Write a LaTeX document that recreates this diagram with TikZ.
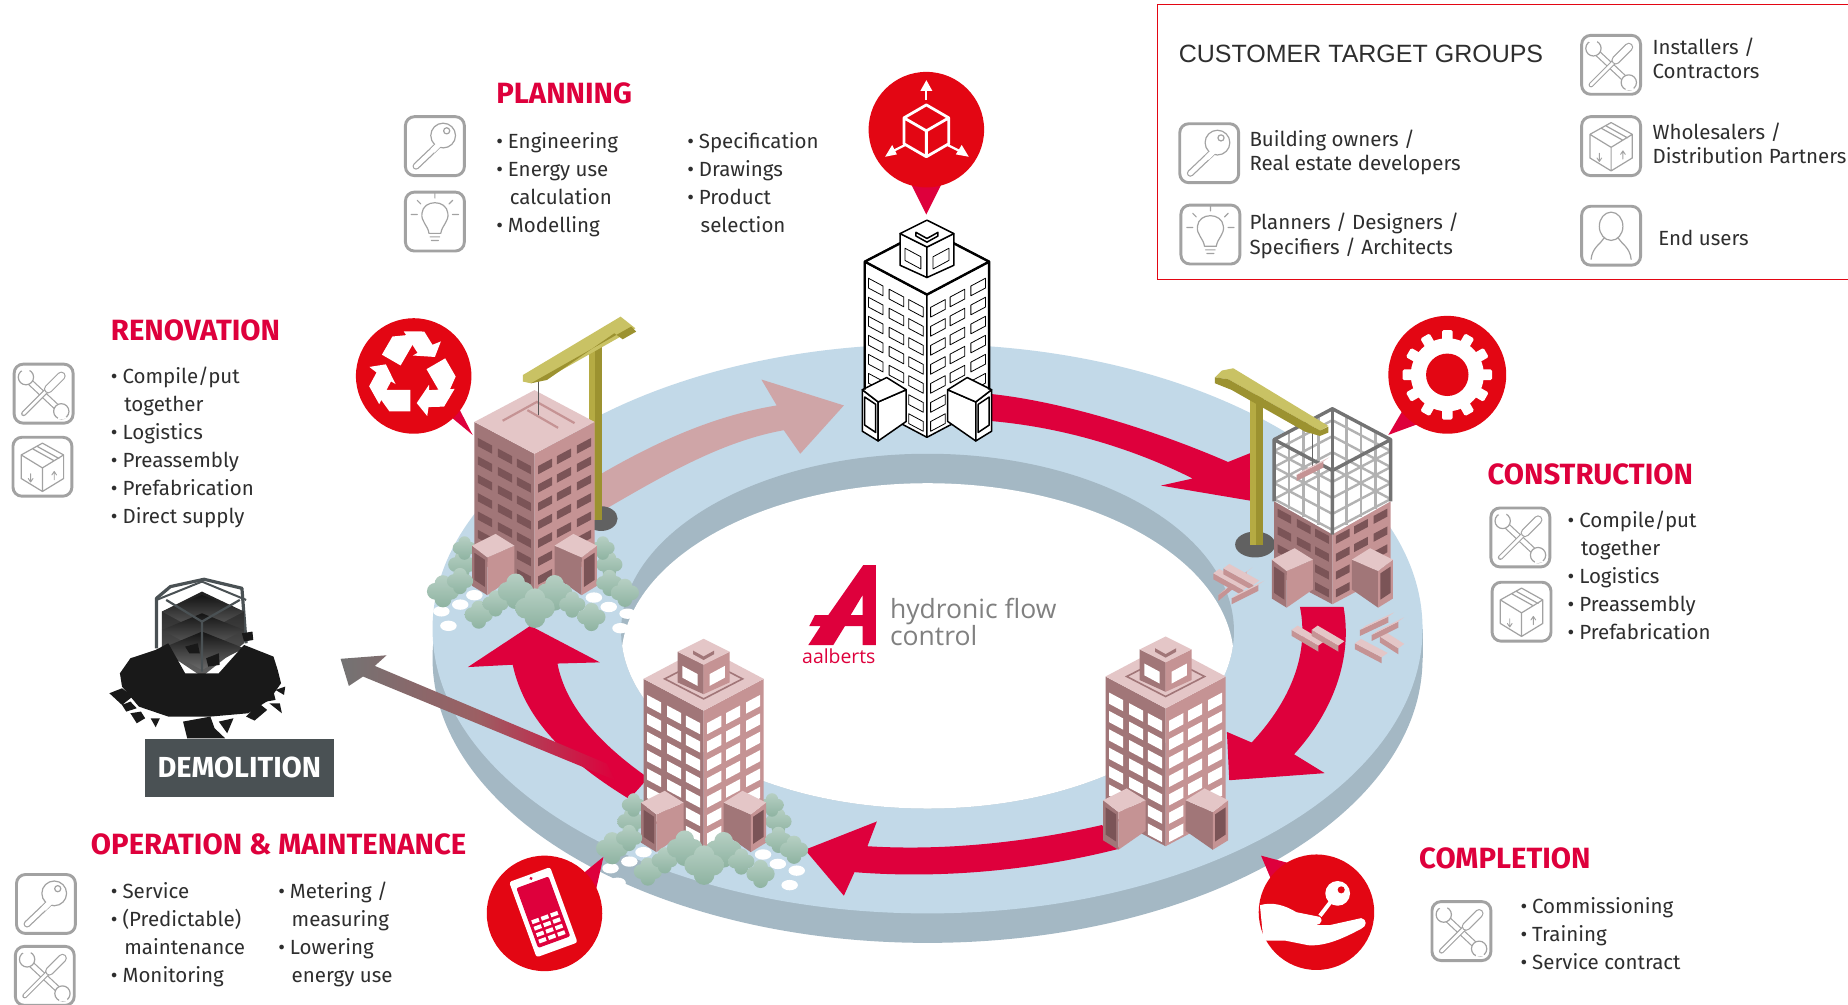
\documentclass[tikz,border=0pt]{standalone}
\usepackage{fontspec}
\setmainfont{Fira Sans}
\newfontfamily\custfont{Liberation Sans}
\newfontfamily\logofont{Open Sans}
\usetikzlibrary{calc}
\definecolor{crimson}{HTML}{DE003C}
\definecolor{callred}{HTML}{E30613}
\definecolor{ringtop}{HTML}{C2D9E8}
\definecolor{ringside}{HTML}{A4B8C4}
\definecolor{bodytxt}{HTML}{2E2E2E}
\definecolor{icongrey}{HTML}{A2A2A2}
\definecolor{olive}{HTML}{B5AB43}
\definecolor{olivedark}{HTML}{9C9230}
\definecolor{olivelight}{HTML}{C9C264}
\definecolor{pinktop}{HTML}{E4C6C7}
\definecolor{pinkleft}{HTML}{A17678}
\definecolor{pinkright}{HTML}{C59394}
\definecolor{pinkdoor}{HTML}{7B5457}
\definecolor{fadearrow}{HTML}{CFA5A7}
\definecolor{demgrey}{HTML}{4A5154}
\definecolor{demmid}{HTML}{9C5F63}
\definecolor{treeA}{HTML}{B6CFC3}
\definecolor{treeB}{HTML}{8EB3A1}
\newcommand\itm[1]{\makebox[11.6pt][l]{\textbullet}#1}
\newcommand\cnt[1]{\kern13.4pt #1}
% tower parts; colours come from tT,tL,tR,tD and style tln
\newcommand\setpink{\colorlet{tT}{pinktop}\colorlet{tL}{pinkleft}\colorlet{tR}{pinkright}\colorlet{tD}{pinkdoor}\tikzset{tln/.style={line width=0pt,draw=none}}}
\newcommand\setwire{\colorlet{tT}{white}\colorlet{tL}{white}\colorlet{tR}{white}\colorlet{tD}{white}\tikzset{tln/.style={draw=black,line width=1.5pt,line join=round}}}
\newcommand\towerwalls{%
 \path[fill=tL,tln] (-51,0)--(0,27)--(0,144)--(-51,117)--cycle;
 \path[fill=tR,tln] (51,0)--(0,27)--(0,144)--(51,117)--cycle;
 \path[fill=tT,tln] (-51,0)--(0,-27)--(51,0)--(0,27)--cycle;}
\newcommand\towerwin[4]{% from row, to row, height, colour
 \foreach \r in {#1,...,#2}{\foreach \xa in {-48,-31,-15}{%
  \pgfmathsetmacro\ya{(\xa+51)*.53+12+\r*15.6}%
  \path[fill=#4,tln,line width=.8pt] (\xa,\ya)--++(12,6.4)--++(0,#3)--++(-12,-6.4)--cycle;
  \path[fill=#4,tln,line width=.8pt] (-\xa,\ya)--++(-12,6.4)--++(0,#3)--++(12,-6.4)--cycle;}}}
\newcommand\towerpent[1]{%
 \path[draw=tL,line width=1.6pt] (-33,0)--(0,-17)--(33,0)--(0,17)--cycle;
 \path[fill=tL,tln] (-22,-23)--(0,-12)--(0,13)--(-22,3)--cycle;
 \path[fill=tR,tln] (22,-23)--(0,-12)--(0,13)--(22,3)--cycle;
 \path[fill=tT,tln] (-22,-23)--(0,-34)--(22,-23)--(0,-12)--cycle;
 \path[fill=tL,tln] (-9,-24)--(0,-19)--(9,-24)--(9,-21)--(0,-16)--(-9,-21)--cycle;
 \path[fill=#1,tln,line width=.8pt] (-18,-11)--(-5,-4)--(-5,6)--(-18,-1)--cycle;
 \path[fill=#1,tln,line width=.8pt] (18,-11)--(5,-4)--(5,6)--(18,-1)--cycle;}
\newcommand\towerannex{%
 % left annex
 \path[fill=tL,tln] (-53,105)--(-40,115)--(-40,147)--(-53,139)--cycle;
 \path[fill=tD,tln] (-51,111)--(-42,117)--(-42,140)--(-51,134)--cycle;
 \path[fill=tR,tln] (-17,105)--(-40,115)--(-40,147)--(-17,131)--cycle;
 \path[fill=tT,tln] (-53,105)--(-33,95)--(-17,105)--(-40,115)--cycle;
 % right annex
 \path[fill=tL,tln] (17,105)--(40,115)--(40,147)--(17,131)--cycle;
 \path[fill=tR,tln] (53,105)--(40,115)--(40,147)--(53,139)--cycle;
 \path[fill=tD,tln] (51,111)--(42,117)--(42,140)--(51,134)--cycle;
 \path[fill=tT,tln] (53,105)--(33,95)--(17,105)--(40,115)--cycle;}
% trees
\newcommand\treeat[3]{\shade[top color=treeA,bottom color=treeB]
 (#1,#2-#3*.5) circle[radius=#3*.55] (#1-#3*.5,#2) circle[radius=#3*.55] (#1+#3*.5,#2) circle[radius=#3*.55] (#1,#2+#3*.5) circle[radius=#3*.55] (#1,#2) circle[radius=#3*.7];}
\newcommand\grovepebbles{\foreach \a/\b in {-51/147,-63/155,-79/160.7,-73/173,50.4/149,63/157,79/162.7,73/175}{\fill[white] (\a,\b) ellipse[x radius=7,y radius=4.4];}}
\newcommand\groveback{\foreach \a/\b/\c in {-61.3/121/11.4,-59.4/107/9.5,63.5/121/10.6,58/107/9.5}{\treeat{\a}{\b}{\c}}}
\newcommand\grovefront{\foreach \a/\b/\c in {-77.6/143.7/13,-63.2/135/10.6,-47.3/163.5/11.4,-33/154/10.6,-16/143.7/14.4,17/145/14.4,0.4/158/16,32/155/10.6,48.3/165.5/11.4,63.5/136.6/10.6,76.7/145/11.4}{\treeat{\a}{\b}{\c}}}
% icon frame pics
\tikzset{
 frm/.style={draw=icongrey,line width=2.9pt,rounded corners=9pt,fill=white},
 ico/.style={draw=icongrey,line width=1.2pt,line join=round,line cap=round},
 head/.style={anchor=base west,inner sep=0,font=\bfseries\fontsize{29.3}{32}\selectfont,text=crimson},
 lst/.style={anchor=base west,inner sep=0,align=left,font=\fontsize{20.5}{28}\selectfont,text=bodytxt},
 cust/.style={anchor=base west,inner sep=0,align=left,font=\fontsize{20.5}{24.7}\selectfont,text=bodytxt},
 keyicon/.pic={\path[frm] (-25,-25) rectangle (25,25);
  \draw[icongrey,line width=7pt,line cap=round] (4,-2)--(-16,17);
  \draw[white,line width=4.5pt,line cap=round] (4,-2)--(-16,17);
  \path[ico,fill=white] (7,-9) circle[radius=10.5];
  \draw[white,line width=5.3pt] (4,-2)--(-2,4);
  \path[ico] (10,-13) circle[radius=2.6];},
 toolsicon/.pic={\path[frm] (-25,-25) rectangle (25,25);
  \draw[icongrey,line width=6.6pt,line cap=round] (-16,-14)--(15,15);
  \draw[white,line width=4.2pt,line cap=round] (-16,-14)--(15,15);
  \path[ico,fill=white] (-15,-14) circle[radius=6.5] (15,15) circle[radius=6.5];
  \fill[white] (-20,-21) -- (-14,-15) -- (-11,-22)--cycle (20,21)--(14,15)--(12,22)--cycle;
  \draw[icongrey,line width=5pt,line cap=round] (-17,17)--(3,-3);
  \draw[white,line width=2.8pt,line cap=round] (-17,17)--(3,-3);
  \draw[icongrey,line width=8.8pt,line cap=round] (4,-4)--(15,-15);
  \draw[white,line width=6.4pt,line cap=round] (4,-4)--(15,-15);},
 bulbicon/.pic={\path[frm] (-25,-25) rectangle (25,25);
  \path[ico] (-5,10) .. controls (-6,3) and (-12,0) .. (-11,-7) .. controls (-10,-19) and (10,-19) .. (11,-7) .. controls (12,0) and (6,3) .. (5,10) -- cycle;
  \draw[ico] (-4,13)--(4,13) (-3,16)--(3,16) (0,-25)--(0,-20) (-15,-18)--(-12,-15) (15,-18)--(12,-15) (-20,-6)--(-15,-6) (20,-6)--(15,-6);},
 boxicon/.pic={\path[frm] (-25,-25) rectangle (25,25);
  \draw[ico] (0,-20)--(18,-10)--(18,10)--(0,21)--(-18,10)--(-18,-10)--cycle (-18,-10)--(0,1)--(18,-10) (0,1)--(0,21) (-8,-15)--(10,-5) (-4,-17)--(14,-7);
  \draw[ico,line width=.9pt] (-10,6)--(-10,12) (-12,10)--(-10,13)--(-8,10) (10,4)--(10,11) (8,7)--(10,4)--(12,7);},
 personicon/.pic={\path[frm] (-25,-25) rectangle (25,25);
  \draw[ico] (0,-8) ellipse[x radius=10,y radius=12] (-17,20) .. controls (-16,10) and (-9,7) .. (-6,2) (17,20) .. controls (16,10) and (9,7) .. (6,2);},
}
\newcommand\barbrick[4]{% bar in zoom coordinates
 \fill[pinkright] (#1,#2)--(#3,#4)--++(0,18)--(#1,#2+18)--cycle;
 \fill[pinktop] (#1,#2)--(#3,#4)--++(18,-13)--(#1+18,#2-13)--cycle;}
\begin{document}
\begin{tikzpicture}[x=1.17857pt,y=-1.17857pt]
\useasboundingbox (0,0) rectangle (1568,851.9);
\fill[white] (0,0) rectangle (1568,851.9);
% ---------- ring
\fill[ringside] (787,558.5) ellipse[x radius=420,y radius=241.5];
\fill[ringside] (367,533.5) rectangle (1207,558.5);
\fill[ringtop] (787,533.5) ellipse[x radius=420,y radius=241.5];
\fill[ringside] (787,535.5) ellipse[x radius=260,y radius=150.5];
\begin{scope}
\clip (787,535.5) ellipse[x radius=260,y radius=150.5];
\fill[white] (787,560.5) ellipse[x radius=260,y radius=150.5];
\end{scope}
% ---------- block arrows
\fill[fadearrow] (500,408) .. controls (560,372) and (610,352) .. (659,344) -- (646,322) -- (716,344) -- (679,385) -- (665,365) .. controls (610,375) and (560,405) .. (500,440) -- cycle;
\fill[crimson] (838,334) .. controls (900,340) and (980,365) .. (1042,392) -- (1062,384) -- (1062,425) -- (985,412) -- (1012,406) .. controls (960,380) and (900,362) .. (838,357) -- cycle;
\fill[crimson] (1103,515) .. controls (1112,560) and (1090,600) .. (1062,630) -- (1041,621) -- (1043,662) -- (1124,656) -- (1098,640) .. controls (1130,605) and (1148,560) .. (1140,515) -- cycle;
\fill[crimson] (935,700) .. controls (870,715) and (800,722) .. (736,718) -- (744,697) -- (683,721) -- (716,760) -- (725,740) .. controls (800,746) and (880,738) .. (950,720) -- cycle;
\fill[crimson] (534,678) .. controls (480,645) and (445,610) .. (435,564) -- (397,566) -- (450,531) -- (509,562) -- (473,563) .. controls (480,600) and (510,632) .. (550,660) -- cycle;
\shade[left color=black!55,right color=crimson,middle color=demmid] (318,565) -- (328,556) -- (289,559) -- (296,582) -- (308,574) -- (522,662) -- (515,648) -- cycle;
% ---------- crane bases
\fill[black!62] (510,440) ellipse[x radius=14,y radius=10.5];
\fill[black!62] (1065,462) ellipse[x radius=17,y radius=11];
\begin{scope}[shift={(453.5,358)}]\groveback\end{scope}
\begin{scope}[shift={(597,576)}]\groveback\end{scope}
% left crane pole
\fill[olive] (500,290) rectangle (511,441);
\fill[olivedark] (505,290) rectangle (511,441);
% ---------- towers
\begin{scope}[shift={(786.5,222)},scale=1.035]
\setwire\towerwalls\towerwin{0}{6}{8}{white}\towerpent{white}\towerannex
\draw[black,line width=2.4pt,line join=round] (-51,105)--(-51,0)--(-22,-15) (22,-15)--(51,0)--(51,105) (-51,0)--(0,27)--(51,0);
\end{scope}
\begin{scope}[shift={(989,574)}]
\setpink\towerwalls\towerwin{0}{6}{9.5}{white}\towerpent{white}\towerannex
\end{scope}
\begin{scope}[shift={(453.5,358)}]
\setpink\towerwalls
\path[draw=tR,line width=2.2pt] (-27,-1)--(2,-17)--(34,1) (-6,-10)--(20,5);
\towerwin{0}{6}{7}{tD}\towerannex
\end{scope}
\begin{scope}[shift={(453.5,358)}]\grovepebbles\grovefront\end{scope}
\begin{scope}[shift={(597,576)}]
\setpink\towerwalls\towerwin{0}{6}{9.5}{white}\towerpent{white}\towerannex
\end{scope}
\begin{scope}[shift={(597,576)}]\grovepebbles\grovefront\end{scope}
% crane wire + left boom
\begin{scope}[shift={(0,254.5)},xscale=.357,yscale=.2828]
\draw[black!65,line width=.8pt] (1280,240)--(1280,345);
\fill[olivelight] (1243,225)--(1475,50)--(1510,85)--(1300,235)--(1262,250)--(1243,245)--cycle;
\fill[olivedark] (1262,250)--(1500,80)--(1512,95)--(1480,118)--(1460,100)--(1300,240)--cycle;
\end{scope}
% ---------- construction tower
\fill[olive] (1060.6,335) rectangle (1071.3,462);
\fill[olivedark] (1066,335) rectangle (1071.3,462);
\begin{scope}[shift={(1130.5,373)},scale=.97]
\setpink
\fill[white] (-51,0)--(0,-27)--(51,0)--(51,54)--(0,83)--(-51,54)--cycle;
\foreach \h in {10,24,38,52}{\draw[black!30,line width=2.4pt] (-51,\h)--(0,\h-27)--(51,\h) (-51,\h)--(0,\h+27)--(51,\h);}
\foreach \q in {-38,-25,-12,12,25,38}{\pgfmathsetmacro\w{(51-abs(\q))*.53}\draw[black!30,line width=2.8pt] (\q,\w)--(\q,\w+54) (\q,-\w)--(\q,-\w+54);}
\fill[tL] (-51,54)--(0,83)--(0,144)--(-51,117)--cycle;
\fill[tR] (51,54)--(0,83)--(0,144)--(51,117)--cycle;
\towerwin{3}{6}{7}{tD}
\draw[black!55,line width=2.4pt] (0,-27)--(0,27);
\draw[black!55,line width=3.4pt,line join=round] (-51,54)--(-51,0)--(0,-27)--(51,0)--(51,54) (-51,0)--(0,27)--(51,0) (0,27)--(0,83);
\towerannex
\end{scope}
\begin{scope}[shift={(1001.2,254.5)},scale=.2828]
\draw[black!60,line width=.7pt] (397,400)--(397,505);
\barbrick{350}{525}{430}{485}
\fill[olivelight] (105,232)--(125,212)--(160,205)--(445,378)--(420,392)--(145,238)--cycle;
\fill[olivedark] (105,232)--(145,238)--(420,392)--(445,380)--(445,398)--(420,408)--(375,395)--(155,270)--(105,250)--cycle;
\barbrick{115}{885}{200}{815}
\barbrick{100}{820}{190}{870}
\barbrick{130}{805}{220}{855}
\barbrick{155}{895}{235}{855}
\barbrick{335}{990}{415}{1037}
\barbrick{395}{990}{475}{1037}
\barbrick{600}{1010}{655}{1045}
\barbrick{525}{1030}{605}{1072}
\barbrick{540}{990}{625}{950}
\barbrick{575}{1005}{655}{965}
\end{scope}
% ---------- callouts
\fill[crimson] (770,150)--(802,150)--(786,182)--cycle;
\fill[callred] (786,110) circle[radius=49];
\draw[white,line width=2.8pt,line join=round] (786,89)--(805,100)--(805,122)--(786,133)--(767,122)--(767,100)--cycle (767,100)--(786,111)--(805,100) (786,111)--(786,133);
\draw[white,line width=2.2pt] (786,85)--(786,75);
\fill[white] (781,77)--(786,68)--(791,77)--cycle;
\draw[white,line width=2.2pt] (768,123)--(758,128) (804,123)--(814,128);
\fill[white] (751,133)--(757,123)--(761,131)--cycle (822,133)--(816,123)--(811,131)--cycle;
% renovation
\fill[crimson] (372,345)--(385,338)--(401,369)--cycle;
\fill[callred] (351,319) circle[radius=49];
\begin{scope}[shift={(350,318)}]
\foreach \t in {0,120,240}{\fill[white,rotate=\t] (3.6,24)--(14,8.5)--(14,13)--(35.7,12)--(26.8,27)--(13.6,27.4)--(12.5,35)--cycle (-23,12.7)--(-1.8,12.7)--(-1.8,31)--(-19.6,31)--(-26.8,21)--cycle;}
\end{scope}
% construction
\fill[crimson] (1192,345)--(1208,358)--(1178,369)--cycle;
\fill[callred] (1228,318) circle[radius=50];
\begin{scope}[shift={(1228,318)}]
\fill[white] (0,0) circle[radius=31];
\foreach \t in {0,30,...,330}{\fill[white,rounded corners=1.5pt,rotate=\t] (-4.5,-38)rectangle(4.5,-28);}
\fill[callred] (0,0) circle[radius=18];
\end{scope}
% completion
\fill[crimson] (1078,745)--(1096,733)--(1070,726)--cycle;
\fill[callred] (1117,774) circle[radius=49];
\fill[white] (1069,768) .. controls (1080,765) and (1090,768) .. (1100,774) -- (1120,778) .. controls (1124,783) and (1118,786) .. (1112,785) -- (1128,785) -- (1155,779) .. controls (1160,780) and (1160,786) .. (1155,788) .. controls (1140,796) and (1125,803) .. (1110,802) -- (1090,798) -- (1072,798) -- cycle;
\draw[white,line width=4pt] (1130,764)--(1120,777);
\fill[white] (1135,758) circle[radius=10.5];
\fill[callred] (1138,755) circle[radius=3];
% operation
\fill[crimson] (490,745)--(505,758)--(512,727)--cycle;
\fill[callred] (462,775) circle[radius=49];
\begin{scope}[shift={(461,774)},rotate=20]
\fill[white,rounded corners=2.5pt] (-18.5,-34)rectangle(18.5,34);
\fill[crimson,rounded corners=2pt] (-14.5,-27)rectangle(14.5,27);
\fill[crimson] (0,-30.5) circle[radius=1.4];
\foreach \i in {0,1,2}{\foreach \j in {0,1,2,3}{\fill[white] (-12+\i*8.5,3+\j*5.8)rectangle++(6.4,3.4);}}
\end{scope}
% ---------- logo
\begin{scope}[shift={(661.8,458.2)},scale=.2828]
\fill[crimson,even odd rule] (250,75)--(288,75)--(288,315)--(248,315)--(248,258)--(195,258)--(160,315)--(85,315)--(122,258)--(88,258)--(105,225)--(145,225)--cycle (248,165)--(248,225)--(212,225)--cycle;
\end{scope}
\node[anchor=base west,inner sep=0,text=crimson,font=\logofont\fontsize{19.4}{20}\selectfont] (logoname) at (680.5,563) {aalberts};
\node[anchor=base west,inner sep=0,text=black!50,align=left,font=\logofont\fontsize{26.5}{24.5}\selectfont] (logotext) at (755,548) {hydronic flow\\control};
% ---------- demolition
\begin{scope}[shift={(0,254.5)},xscale=.357,yscale=.2828]
\draw[demgrey,line width=3.2pt,line join=round] (372,1045)--(372,895)--(405,860)--(485,838)--(575,865)--(585,1030);
\shade[top color=black!88,bottom color=black!62] (385,935)--(480,875)--(580,935)--(580,1030)--(480,1130)--(385,1050)--cycle;
\foreach \h in {0,55,110}{\shade[top color=black!92,bottom color=black!58] (480,\h+885)--(580,\h+935)--(480,\h+1000)--(385,\h+935)--cycle;}
\draw[demgrey,line width=2.2pt] (480,1115)--(480,965)--(395,900) (480,965)--(570,900);
\draw[demgrey,line width=2pt] (372,900)--(480,845)--(585,900);
\fill[black!90] (285,1120)--(310,1075)--(370,1050)--(400,1030)--(440,1120)--(520,1120)--(580,1035)--(650,1070)--(660,1110)--(668,1150)--(640,1200)--(590,1240)--(500,1250)--(400,1250)--(330,1220)--(290,1160)--cycle;
\fill[black!90] (440,1040)--(470,1030)--(475,1060)--(450,1060)--cycle (490,1075)--(520,1060)--(522,1095)--(495,1100)--cycle (575,1000)--(600,995)--(602,1020)--(580,1025)--cycle (260,1180)--(290,1165)--(315,1190)--(290,1215)--cycle (290,1215)--(310,1205)--(325,1225)--(300,1235)--cycle (310,1240)--(335,1235)--(345,1255)--(325,1270)--cycle (358,1255)--(380,1255)--(370,1282)--cycle (585,1250)--(615,1210)--(635,1230)--(605,1262)--cycle (625,1180)--(650,1175)--(655,1200)--(632,1205)--cycle (640,1210)--(665,1210)--(670,1240)--cycle (655,1170)--(678,1160)--(675,1185)--cycle (435,1265)--(500,1250)--(510,1285)--(535,1315)--(445,1315)--cycle (520,1265)--(555,1255)--(540,1300)--cycle;
\end{scope}
\node[fill=demgrey,minimum width=188.6pt,minimum height=57.8pt,inner sep=0,text=white,font=\bfseries\fontsize{29}{32}\selectfont] (demolition) at (203,651.5) {\raisebox{2pt}{DEMOLITION}};
% ---------- icons
\path (369,124) pic {keyicon}; \path (369,188) pic {bulbicon};
\path (37,334) pic {toolsicon}; \path (36,396) pic {boxicon};
\path (1290,456) pic {toolsicon}; \path (1291,519) pic {boxicon};
\path (1240,790) pic {toolsicon};
\path (39,767) pic {keyicon}; \path (38,828) pic {toolsicon};
\path (1026,130) pic {keyicon}; \path (1027,199) pic {bulbicon};
\path (1367,55) pic {toolsicon}; \path (1367,124) pic {boxicon}; \path (1367,200) pic {personicon};
% ---------- texts
\node[head] (planning) at (421,88) {PLANNING};
\node[lst] (planA) at (421,197) {\itm{Engineering}\\\itm{Energy use}\\\cnt{calculation}\\\itm{Modelling}};
\node[lst] (planB) at (583,197) {\itm{Specification}\\\itm{Drawings}\\\itm{Product}\\\cnt{selection}};
\node[head] (renovation) at (94,289) {RENOVATION};
\node[lst] (renoL) at (94,444) {\itm{Compile/put}\\\cnt{together}\\\itm{Logistics}\\\itm{Preassembly}\\\itm{Prefabrication}\\\itm{Direct supply}};
\node[head] (construction) at (1262,411) {CONSTRUCTION};
\node[lst] (consL) at (1330,543) {\itm{Compile/put}\\\cnt{together}\\\itm{Logistics}\\\itm{Preassembly}\\\itm{Prefabrication}};
\node[head] (completion) at (1204,737) {COMPLETION};
\node[lst] (compL) at (1290,823) {\itm{Commissioning}\\\itm{Training}\\\itm{Service contract}};
\node[head] (operation) at (77,725) {OPERATION \& MAINTENANCE};
\node[lst] (opA) at (94,834) {\itm{Service}\\\itm{(Predictable)}\\\cnt{maintenance}\\\itm{Monitoring}};
\node[lst] (opB) at (236,834) {\itm{Metering /}\\\cnt{measuring}\\\itm{Lowering}\\\cnt{energy use}};
% ---------- customer box
\draw[callred,line width=1.3pt] (1580,4)--(982,4)--(982,237)--(1580,237);
\node[anchor=base west,inner sep=0,text=bodytxt,font=\custfont\fontsize{25}{28}\selectfont] (custtitle) at (1000,53) {CUSTOMER TARGET GROUPS};
\node[cust] (custA) at (1060,145) {Building owners /\\Real estate developers};
\node[cust] (custB) at (1060,216) {Planners / Designers /\\Specifiers / Architects};
\node[cust] (custC) at (1402,67) {Installers /\\Contractors};
\node[cust] (custD) at (1402,139) {Wholesalers /\\Distribution Partners};
\node[cust] (custE) at (1407,208) {End users};
\end{tikzpicture}
\end{document}
